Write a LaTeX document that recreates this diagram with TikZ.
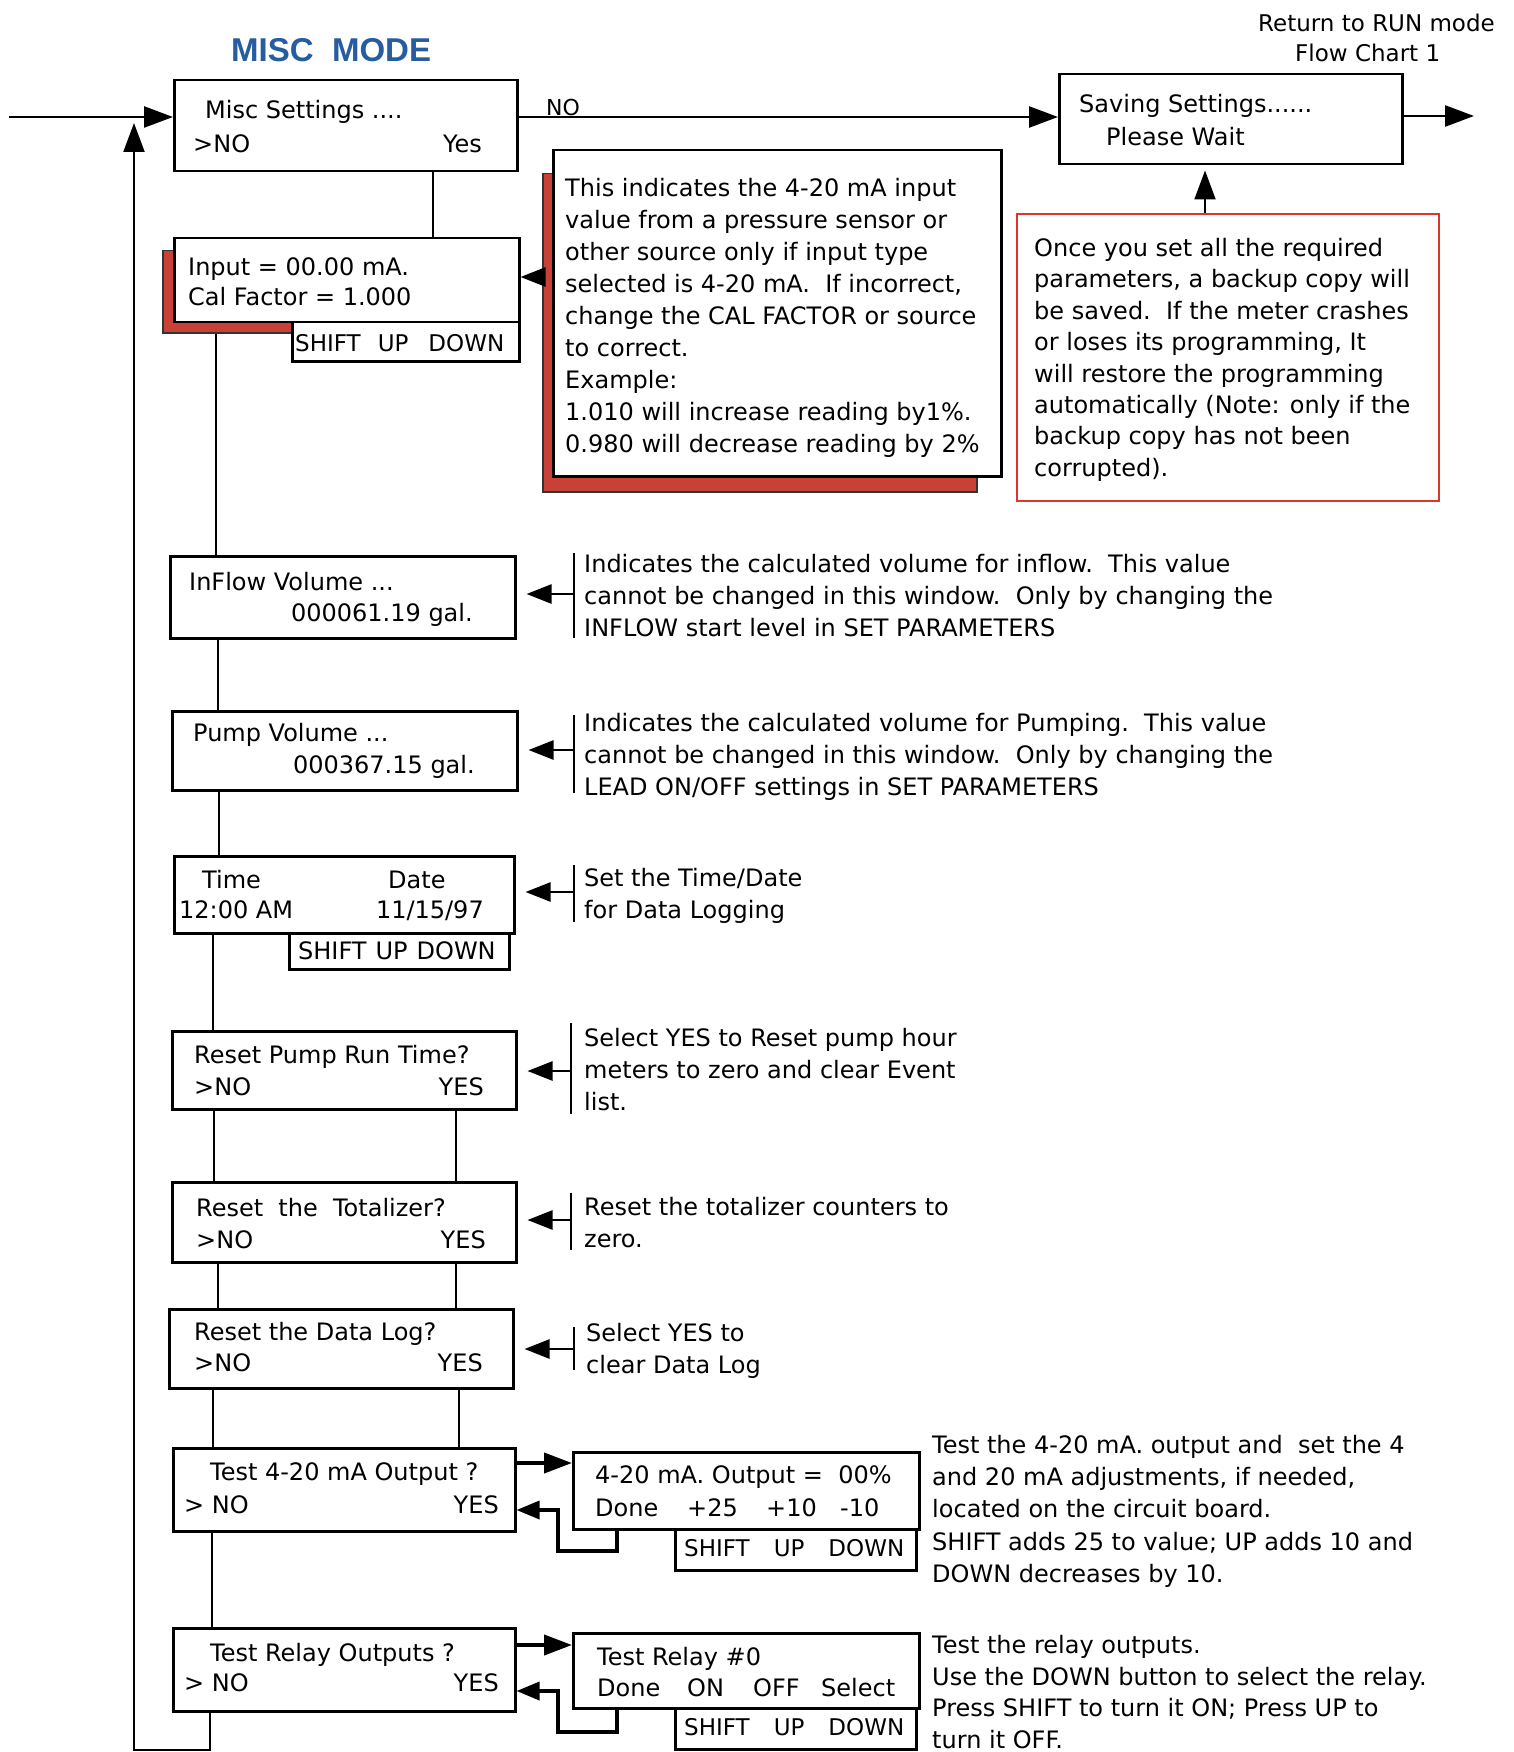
\documentclass[tikz,border=0pt]{standalone}
\usepackage{fontspec}
\setmainfont{DejaVu Sans}
\newfontfamily\titlefont{Liberation Sans}
\usetikzlibrary{arrows.meta}
\definecolor{titleblue}{RGB}{38,92,160}
\definecolor{shadowred}{RGB}{200,65,55}
\definecolor{boxred}{RGB}{222,52,46}
\begin{document}
\begin{tikzpicture}[x=1pt,y=-1pt,
  box/.style={draw, line width=2.5pt, fill=white, inner sep=0pt, anchor=north west},
  shad/.style={draw=black!80, line width=1.5pt, fill=shadowred, inner sep=0pt, anchor=north west},
  txt/.style={inner sep=0pt, text height=17.5pt, text depth=0pt, anchor=west, font=\fontsize{24}{32}\selectfont},
  rtxt/.style={txt, anchor=east},
  ctxt/.style={txt, anchor=center},
  stxt/.style={txt, font=\fontsize{23}{30}\selectfont},
  note/.style={inner sep=0pt, anchor=north west, align=left, font=\fontsize{24}{32}\selectfont},
  conn/.style={line width=2.2pt},
  arr/.style={line width=2.5pt, -{Triangle[length=29pt,width=21pt]}},
  sarr/.style={line width=2.5pt, shorten >=10pt, -{Triangle[length=25pt,width=19pt]}},
  tarr/.style={line width=4pt, -{Triangle[length=28pt,width=20pt]}},
  rarr/.style={line width=3.5pt, -{Triangle[length=23pt,width=18pt]}},
  bar/.style={line width=2pt},
]
\useasboundingbox (0,0) rectangle (1513,1752);

% ---------- titles
\node[inner sep=0pt, anchor=west, text=titleblue, font=\titlefont\bfseries\fontsize{33}{40}\selectfont] (title) at (231,50) {MISC\ \ MODE};
\node[txt, font=\fontsize{23}{30}\selectfont] (ret1) at (1258,23) {Return to RUN mode};
\node[txt, font=\fontsize{23}{30}\selectfont] (ret2) at (1295,53) {Flow Chart 1};

% ---------- shadows
\node[shad, minimum width=345pt, minimum height=82pt] (inshadow) at (162,250) {};
\node[shad, minimum width=434pt, minimum height=318pt] (noteshadow) at (542,173) {};

% ---------- boxes
\node[box, minimum width=343pt, minimum height=91pt] (misc) at (173,79) {};
\node[box, minimum width=343pt, minimum height=90pt] (saving) at (1058,73) {};
\node[box, minimum width=345pt, minimum height=84pt] (input) at (173,237) {};
\node[box, minimum width=227pt, minimum height=39pt] (inshift) at (291,321) {};
\node[box, minimum width=448pt, minimum height=326pt] (note) at (552,149) {};
\node[draw=boxred, line width=2pt, inner sep=0pt, anchor=north west, minimum width=422pt, minimum height=287pt] (redbox) at (1016,213) {};
\node[box, minimum width=345pt, minimum height=82pt] (inflow) at (169,555) {};
\node[box, minimum width=345pt, minimum height=79pt] (pump) at (171,710) {};
\node[box, minimum width=340pt, minimum height=77pt] (time) at (173,855) {};
\node[box, minimum width=220pt, minimum height=36pt] (timeshift) at (288,932) {};
\node[box, minimum width=344pt, minimum height=78pt] (rpump) at (171,1030) {};
\node[box, minimum width=344pt, minimum height=80pt] (totz) at (171,1181) {};
\node[box, minimum width=344pt, minimum height=79pt] (dlog) at (168,1308) {};
\node[box, minimum width=342pt, minimum height=83pt] (t420) at (172,1447) {};
\node[box, minimum width=346pt, minimum height=77pt] (out) at (572,1451) {};
\node[box, minimum width=241pt, minimum height=41pt] (outshift) at (674,1528) {};
\node[box, minimum width=342pt, minimum height=83pt] (trelay) at (172,1627) {};
\node[box, minimum width=346pt, minimum height=75pt] (relay) at (572,1632) {};
\node[box, minimum width=241pt, minimum height=41pt] (relayshift) at (674,1707) {};

% ---------- main connectors
\coordinate (entry) at (9,117);
\draw[arr] (entry) -- (misc.west |- entry);
\draw[arr] (misc.east |- 0,117) -- (saving.west |- 0,117);
\node[inner sep=0pt, anchor=base west, font=\fontsize{22}{26}\selectfont] (nolbl) at (546,116) {NO};
\coordinate (exitpt) at (1474,116);
\draw[arr] (saving.east |- exitpt) -- (exitpt);
\draw[arr, line width=2pt] (redbox.north -| 1205,0) -- ([yshift=-5pt]saving.south -| 1205,0);
\draw[sarr, shorten >=0pt] (noteshadow.west |- 0,277) -- (input.east |- 0,277);

\coordinate (looptip) at (134,123);
\draw[arr, line width=2.2pt] (trelay.south -| 210,0) -- (210,1750) -- (134,1750) -- (looptip);

\draw[conn] (misc.south -| 433,0) -- (input.north -| 433,0);
\draw[conn] (inshadow.south -| 216,0) -- (inflow.north -| 216,0);
\draw[conn] (inflow.south -| 218,0) -- (pump.north -| 218,0);
\draw[conn] (pump.south -| 219,0) -- (time.north -| 219,0);
\draw[conn] (time.south -| 213,0) -- (rpump.north -| 213,0);
\draw[conn] (rpump.south -| 214,0) -- (totz.north -| 214,0);
\draw[conn] (rpump.south -| 456,0) -- (totz.north -| 456,0);
\draw[conn] (totz.south -| 218,0) -- (dlog.north -| 218,0);
\draw[conn] (totz.south -| 456,0) -- (dlog.north -| 456,0);
\draw[conn] (dlog.south -| 213,0) -- (t420.north -| 213,0);
\draw[conn] (dlog.south -| 459,0) -- (t420.north -| 459,0);
\draw[conn] (t420.south -| 212,0) -- (trelay.north -| 212,0);

\draw[tarr] (t420.east |- 0,1463) -- (out.west |- 0,1463);
\draw[rarr] (out.south -| 617,0) |- (558,1551) |- (t420.east |- 0,1510);
\draw[tarr] (trelay.east |- 0,1645) -- (relay.west |- 0,1645);
\draw[rarr] (relay.south -| 617,0) |- (558,1732) |- (trelay.east |- 0,1691);

% ---------- note bars and arrows
\draw[bar] (574,553) -- (574,638);
\coordinate (b1) at (574,594); \draw[sarr] (b1) -- (inflow.east |- b1);
\draw[bar] (574,715) -- (574,793);
\coordinate (b2) at (574,750); \draw[sarr] (b2) -- (pump.east |- b2);
\draw[bar] (574,865) -- (574,922);
\coordinate (b3) at (574,892); \draw[sarr] (b3) -- (time.east |- b3);
\draw[bar] (571,1023) -- (571,1114);
\coordinate (b4) at (571,1071); \draw[sarr] (b4) -- (rpump.east |- b4);
\draw[bar] (571,1193) -- (571,1250);
\coordinate (b5) at (571,1220); \draw[sarr] (b5) -- (totz.east |- b5);
\draw[bar] (574,1327) -- (574,1370);
\coordinate (b6) at (574,1349); \draw[sarr] (b6) -- (dlog.east |- b6);

% ---------- box texts
\node[txt] (m1) at (205,110) {Misc Settings ....};
\node[txt] (m2) at (193,144) {>NO};
\node[rtxt] (m3) at (482,144) {Yes};
\node[txt] (s1) at (1079,104) {Saving Settings......};
\node[txt] (s2) at (1106,137) {Please Wait};
\node[txt] (i1) at (188,267) {Input = 00.00 mA.};
\node[txt] (i2) at (188,297) {Cal Factor = 1.000};
\node[stxt] (i3) at (295,343) {SHIFT\hspace{17pt}UP\hspace{20pt}DOWN};
\node[txt] (f1) at (189,582) {InFlow Volume ...};
\node[rtxt] (f2) at (473,613) {000061.19 gal.};
\node[txt] (p1) at (193,733) {Pump Volume ...};
\node[rtxt] (p2) at (475,765) {000367.15 gal.};
\node[txt] (d1) at (202,880) {Time};
\node[txt] (d2) at (388,880) {Date};
\node[txt] (d3) at (179,910) {12:00 AM};
\node[rtxt] (d4) at (484,910) {11/15/97};
\node[txt] (d5) at (298,951) {SHIFT\hspace{9pt}UP\hspace{9pt}DOWN};
\node[txt] (r1) at (194,1055) {Reset Pump Run Time?};
\node[txt] (r2) at (194,1087) {>NO};
\node[rtxt] (r3) at (484,1087) {YES};
\node[txt] (z1) at (196,1208) {Reset\ \ the\ \ Totalizer?};
\node[txt] (z2) at (196,1240) {>NO};
\node[rtxt] (z3) at (486,1240) {YES};
\node[txt] (l1) at (194,1332) {Reset the Data Log?};
\node[txt] (l2) at (194,1363) {>NO};
\node[rtxt] (l3) at (483,1363) {YES};
\node[txt] (o1) at (210,1472) {Test 4-20 mA Output ?};
\node[txt] (o2) at (184,1505) {> NO};
\node[rtxt] (o3) at (499,1505) {YES};
\node[txt] (q1) at (595,1475) {4-20 mA. Output =\ \ 00\%};
\node[txt] (q2) at (595,1508) {Done};
\node[txt] (q3) at (687,1508) {+25};
\node[txt] (q4) at (766,1508) {+10};
\node[txt] (q5) at (840,1508) {-10};
\node[stxt] (q6) at (684,1548) {SHIFT\hspace{24pt}UP\hspace{24pt}DOWN};
\node[txt] (e1) at (210,1653) {Test Relay Outputs ?};
\node[txt] (e2) at (184,1683) {> NO};
\node[rtxt] (e3) at (499,1683) {YES};
\node[txt] (y1) at (597,1657) {Test Relay \#0};
\node[txt] (y2) at (597,1688) {Done};
\node[txt] (y3) at (687,1688) {ON};
\node[txt] (y4) at (753,1688) {OFF};
\node[txt] (y5) at (821,1688) {Select};
\node[stxt] (y6) at (684,1727) {SHIFT\hspace{24pt}UP\hspace{24pt}DOWN};

% ---------- notes
\node[note] (notetext) at (565,178) {This indicates the 4-20 mA input\\value from a pressure sensor or\\other source only if input type\\selected is 4-20 mA.\ \ If incorrect,\\change the CAL FACTOR or source\\to correct.\\Example:\\1.010 will increase reading by1\%.\\0.980 will decrease reading by 2\%};
\node[note, font=\fontsize{24}{31.4}\selectfont] (redtext) at (1034,238) {Once you set all the required\\parameters, a backup copy will\\be saved.\ \ If the meter crashes\\or loses its programming, It\\will restore the programming\\automatically (Note: only if the\\backup copy has not been\\corrupted).};
\node[note] (n1) at (584,554) {Indicates the calculated volume for inflow.\ \ This value\\cannot be changed in this window.\ \ Only by changing the\\INFLOW start level in SET PARAMETERS};
\node[note] (n2) at (584,713) {Indicates the calculated volume for Pumping.\ \ This value\\cannot be changed in this window.\ \ Only by changing the\\LEAD ON/OFF settings in SET PARAMETERS};
\node[note] (n3) at (584,868) {Set the Time/Date\\for Data Logging};
\node[note] (n4) at (584,1028) {Select YES to Reset pump hour\\meters to zero and clear Event\\list.};
\node[note] (n5) at (584,1197) {Reset the totalizer counters to\\zero.};
\node[note] (n6) at (586,1323) {Select YES to\\clear Data Log};
\node[note, font=\fontsize{24}{32.2}\selectfont] (n7) at (932,1435) {Test the 4-20 mA. output and\ \ set the 4\\and 20 mA adjustments, if needed,\\located on the circuit board.\\SHIFT adds 25 to value; UP adds 10 and\\DOWN decreases by 10.};
\node[note, font=\fontsize{24}{31.7}\selectfont] (n8) at (932,1635) {Test the relay outputs.\\Use the DOWN button to select the relay.\\Press SHIFT to turn it ON; Press UP to\\turn it OFF.};
\end{tikzpicture}
\end{document}
